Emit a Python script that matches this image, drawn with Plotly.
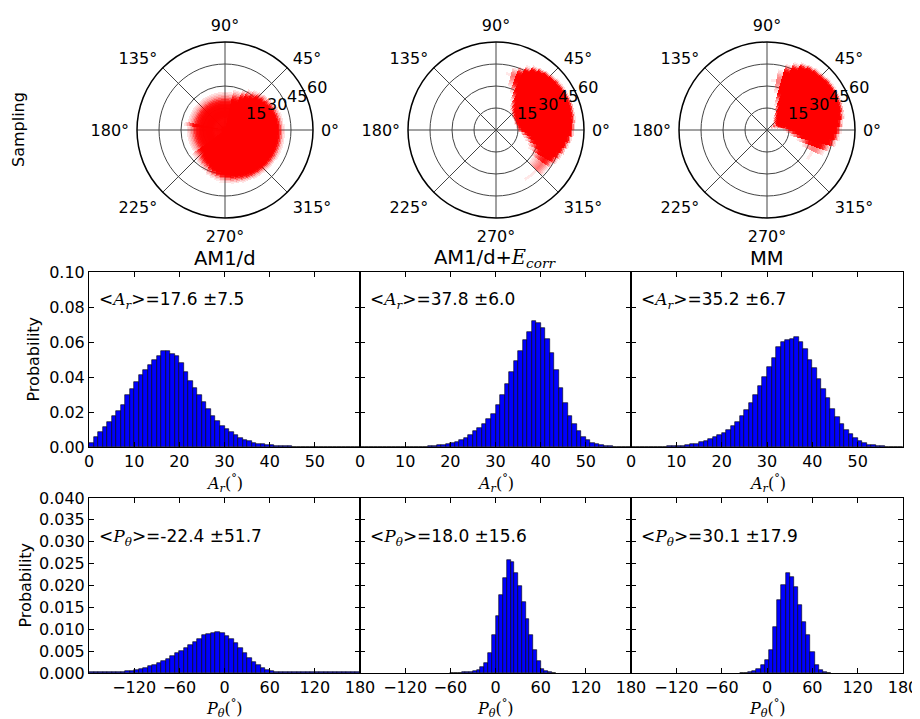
import numpy as np
import plotly.graph_objects as go

W, H = 920, 719

# ---------------- data ----------------
model_titles = ["AM1/d", "AM1/d+<i>E</i><sub><i>corr</i></sub>", "MM"]
ar_means = [17.6, 37.8, 35.2]
ar_sds = [7.5, 6.0, 6.7]
pt_means = [-22.4, 18.0, 30.1]
pt_sds = [51.7, 15.6, 17.9]

# A_r histograms (probability density), 1-degree bins starting at 0
ar_bin_start = 0.0
ar_bin_width = 1.0
ar_am1d = [0.0023, 0.0057, 0.0086, 0.0114, 0.0143, 0.0175, 0.0204, 0.0242, 0.0295, 0.0333,
           0.0370, 0.0410, 0.0440, 0.0470, 0.0495, 0.0520, 0.0550, 0.0550, 0.0530, 0.0520,
           0.0480, 0.0430, 0.0380, 0.0340, 0.0300, 0.0260, 0.0220, 0.0180, 0.0150, 0.0120,
           0.0105, 0.0086, 0.0067, 0.0053, 0.0042, 0.0034, 0.0025, 0.0019, 0.0015, 0.0011,
           0.0009, 0.0007, 0.0005, 0.0004, 0.0003, 0.0002, 0.0002, 0.0001, 0.0001, 0.0001,
           0.0001, 0.0001, 0, 0, 0, 0, 0, 0, 0, 0]
ar_ecorr = [0, 0, 0, 0, 0, 0, 0, 0, 0, 0,
            0, 0, 0.00005, 0.0001, 0.0002, 0.0004, 0.0006, 0.0009, 0.0013, 0.0018,
            0.0023, 0.0030, 0.0040, 0.0050, 0.0070, 0.0090, 0.0110, 0.0130, 0.0160, 0.0190,
            0.0240, 0.0300, 0.0360, 0.0430, 0.0490, 0.0550, 0.0610, 0.0660, 0.0720, 0.0710,
            0.0680, 0.0620, 0.0540, 0.0440, 0.0340, 0.0250, 0.0180, 0.0130, 0.0090, 0.0060,
            0.0040, 0.0025, 0.0015, 0.0010, 0.0006, 0.0003, 0.0002, 0.0001, 0, 0]
ar_mm = [0, 0, 0, 0.00005, 0.00005, 0.0001, 0.0001, 0.0002, 0.0003, 0.0004,
         0.0006, 0.0008, 0.0011, 0.0015, 0.0020, 0.0027, 0.0035, 0.0045, 0.0055, 0.0068,
         0.0082, 0.0098, 0.0118, 0.0145, 0.0175, 0.0210, 0.0250, 0.0300, 0.0350, 0.0400,
         0.0460, 0.0510, 0.0570, 0.0600, 0.0610, 0.0620, 0.0630, 0.0600, 0.0560, 0.0500,
         0.0450, 0.0390, 0.0330, 0.0280, 0.0220, 0.0170, 0.0130, 0.0098, 0.0072, 0.0050,
         0.0033, 0.0022, 0.0014, 0.0009, 0.0005, 0.0003, 0.0002, 0.0001, 0.0001, 0]

# P_theta histograms (probability density)
pt_am1d_start, pt_am1d_width = -180.0, 6.0
pt_am1d = [0.0002, 0.0002, 0.0002, 0.0002, 0.0002, 0.0002, 0.0003, 0.0003, 0.0004, 0.0005,
           0.0006, 0.0009, 0.0012, 0.0015, 0.0019, 0.0023, 0.0027, 0.0032, 0.0038, 0.0045,
           0.0051, 0.0057, 0.0064, 0.0071, 0.0078, 0.0086, 0.0089, 0.0092, 0.0093, 0.0092,
           0.0085, 0.0078, 0.0068, 0.0057, 0.0045, 0.0034, 0.0025, 0.0018, 0.0012, 0.0008,
           0.0005, 0.0003, 0.0003, 0.0002, 0.0002, 0.0002, 0.0002, 0.0002, 0.0002, 0.0002,
           0.0002, 0.0002, 0.0002, 0.0002, 0.0002, 0.0002, 0.0002, 0.0002, 0.0003, 0.0002]
pt_ecorr_start, pt_ecorr_width = -60.0, 5.0
pt_ecorr = [0.0001, 0.0001, 0.0001, 0.0002, 0.0002, 0.0003, 0.0005, 0.0008, 0.0014, 0.0024,
            0.0045, 0.0088, 0.0130, 0.0178, 0.0218, 0.0259, 0.0254, 0.0228, 0.0200, 0.0162,
            0.0124, 0.0086, 0.0052, 0.0027, 0.0010, 0.0004, 0.0002, 0.0001]
pt_mm_start, pt_mm_width = -36.0, 5.5
pt_mm = [0.0001, 0.0001, 0.0002, 0.0004, 0.0010, 0.0018, 0.0030, 0.0053, 0.0106, 0.0167,
         0.0201, 0.0229, 0.0220, 0.0197, 0.0155, 0.0117, 0.0087, 0.0049, 0.0018, 0.0007,
         0.0002, 0.0001]

ar_sets = [ar_am1d, ar_ecorr, ar_mm]
pt_sets = [(pt_am1d_start, pt_am1d_width, pt_am1d),
           (pt_ecorr_start, pt_ecorr_width, pt_ecorr),
           (pt_mm_start, pt_mm_width, pt_mm)]

ar_tickvals = [0, 10, 20, 30, 40, 50]
pt_tickvals = [-120, -60, 0, 60, 120, 180]
pt_ticktext = ["\u2212120", "\u221260", "0", "60", "120", "180"]
ang_tickvals = [0, 45, 90, 135, 180, 225, 270, 315]
rad_tickvals = [15, 30, 45, 60]
rad_label_angle = 22.5

# ---------------- layout geometry ----------------
FONT = "DejaVu Sans"
SERIF = "DejaVu Serif"
OFF = 8  # page offset of the plot in the browser
col_px = [(89, 360), (360, 631), (631, 903)]
row1_px = (272, 447)
row2_px = (498, 673)
polar_cx = [225, 496, 767]
polar_cy = 130
polar_R = 88
polar_rmax = 60


def fx(px):
    return (px - OFF) / W


def fy(py):
    return 1 - (py - OFF) / H


fig = go.Figure()

# -------- polar clouds (rendered from the product of the two marginals) --------
cloud_d50 = 0.95e-5
cloud_exp = 3.0
px_per_deg2 = (polar_R / polar_rmax) ** 2
for k in range(3):
    ar_vals = ar_sets[k]
    pt_start, pt_w, pt_vals = pt_sets[k]
    bases, lens, thetas, widths, cols = [], [], [], [], []
    for i, a in enumerate(ar_vals):
        if a <= 0:
            continue
        r0 = ar_bin_start + i * ar_bin_width
        rc = r0 + ar_bin_width / 2
        for j, t in enumerate(pt_vals):
            if t <= 0:
                continue
            p = a * ar_bin_width * t * pt_w
            area = rc * ar_bin_width * np.radians(pt_w) * px_per_deg2
            d = p / area
            cov = 1 - np.exp(-np.log(2) * (d / cloud_d50) ** cloud_exp)
            if cov < 0.08:
                continue
            bases.append(r0)
            lens.append(ar_bin_width)
            thetas.append(pt_start + (j + 0.5) * pt_w)
            widths.append(pt_w)
            cols.append("rgba(255,0,0,%.3f)" % min(1.0, cov))
    fig.add_trace(go.Barpolar(r=lens, base=bases, theta=thetas, width=widths,
                              marker=dict(color=cols, line=dict(width=0)),
                              hoverinfo="skip", showlegend=False,
                              subplot="polar" if k == 0 else "polar%d" % (k + 1)))

# -------- histograms --------
for k in range(3):
    ar_vals = ar_sets[k]
    xs = [ar_bin_start + (i + 0.5) * ar_bin_width for i in range(len(ar_vals))]
    fig.add_trace(go.Bar(x=xs, y=ar_vals, width=[ar_bin_width] * len(xs),
                         marker=dict(color="#0000ff", line=dict(color="black", width=0.6)),
                         showlegend=False, hoverinfo="skip",
                         xaxis="x" if k == 0 else "x%d" % (k + 1),
                         yaxis="y" if k == 0 else "y%d" % (k + 1)))
for k in range(3):
    pt_start, pt_w, pt_vals = pt_sets[k]
    xs = [pt_start + (i + 0.5) * pt_w for i in range(len(pt_vals))]
    fig.add_trace(go.Bar(x=xs, y=pt_vals, width=[pt_w] * len(xs),
                         marker=dict(color="#0000ff", line=dict(color="black", width=0.6)),
                         showlegend=False, hoverinfo="skip",
                         xaxis="x%d" % (k + 4), yaxis="y%d" % (k + 4)))

axis_common = dict(showline=True, linecolor="black", linewidth=1, mirror="ticks",
                   ticks="inside", ticklen=5, tickcolor="black", showgrid=False,
                   zeroline=False, tickfont=dict(family=FONT, size=16, color="black"),
                   fixedrange=True, automargin=False)

layout = dict(width=W, height=H,
              margin=dict(l=0, r=0, t=0, b=0, pad=0, autoexpand=False),
              paper_bgcolor="white", plot_bgcolor="white", bargap=0, showlegend=False,
              font=dict(family=FONT, size=16, color="black"))

for k in range(3):
    xa = dict(axis_common, domain=[fx(col_px[k][0]), fx(col_px[k][1])],
              range=[0, 60], tickvals=ar_tickvals,
              anchor="y" if k == 0 else "y%d" % (k + 1))
    ya = dict(axis_common, domain=[fy(row1_px[1]), fy(row1_px[0])],
              range=[0, 0.1], tickvals=[0, 0.02, 0.04, 0.06, 0.08, 0.10],
              tickformat=".2f", showticklabels=(k == 0),
              anchor="x" if k == 0 else "x%d" % (k + 1))
    layout["xaxis" if k == 0 else "xaxis%d" % (k + 1)] = xa
    layout["yaxis" if k == 0 else "yaxis%d" % (k + 1)] = ya
    xb = dict(axis_common, domain=[fx(col_px[k][0]), fx(col_px[k][1])],
              range=[-180, 180], tickvals=pt_tickvals, ticktext=pt_ticktext,
              anchor="y%d" % (k + 4))
    yb = dict(axis_common, domain=[fy(row2_px[1]), fy(row2_px[0])],
              range=[0, 0.04], tickvals=[0, 0.005, 0.01, 0.015, 0.02, 0.025, 0.03, 0.035, 0.04],
              tickformat=".3f", showticklabels=(k == 0), anchor="x%d" % (k + 4))
    layout["xaxis%d" % (k + 4)] = xb
    layout["yaxis%d" % (k + 4)] = yb

for k in range(3):
    cx = polar_cx[k]
    polar = dict(
        domain=dict(x=[fx(cx - polar_R), fx(cx + polar_R)],
                    y=[fy(polar_cy + polar_R), fy(polar_cy - polar_R)]),
        bgcolor="white",
        radialaxis=dict(range=[0, polar_rmax], tickvals=rad_tickvals, angle=rad_label_angle,
                        showticklabels=False,
                        showline=False, ticks="", showgrid=True, gridcolor="#444",
                        gridwidth=0.8, layer="above traces"),
        angularaxis=dict(tickvals=ang_tickvals, ticktext=["%d\u00b0" % v for v in ang_tickvals],
                         direction="counterclockwise", rotation=0, showline=True,
                         linecolor="black", linewidth=1.5, ticks="outside", ticklen=4,
                         tickcolor="rgba(0,0,0,0)", showgrid=True,
                         gridcolor="#444", gridwidth=0.8, layer="above traces",
                         tickfont=dict(family=FONT, size=16, color="black")),
    )
    layout["polar" if k == 0 else "polar%d" % (k + 1)] = polar

fig.update_layout(**layout)

ann = []
ann.append(dict(text="Sampling", x=fx(18), y=fy(polar_cy), textangle=-90,
                font=dict(size=16)))
ann.append(dict(text="Probability", x=fx(33), y=fy(sum(row1_px) / 2), textangle=-90,
                font=dict(size=16)))
ann.append(dict(text="Probability", x=fx(25), y=fy(sum(row2_px) / 2), textangle=-90,
                font=dict(size=16)))
# radial tick labels of the polar plots (matplotlib style: just beyond each ring at 22.5 deg)
ca, sa = np.cos(np.radians(rad_label_angle)), np.sin(np.radians(rad_label_angle))
for k in range(3):
    for v in rad_tickvals:
        rp = v * polar_R / polar_rmax
        ann.append(dict(text=str(v), x=fx(polar_cx[k] + rp * ca + 11),
                        y=fy(polar_cy - rp * sa - 8.5), font=dict(size=16, color="black")))
serif_A = "<span style=\"font-family:'%s'\"><i>A</i><sub><i>r</i></sub></span>" % SERIF
serif_P = "<span style=\"font-family:'%s'\"><i>P</i><sub><i>\u03b8</i></sub></span>" % SERIF
for k in range(3):
    cx = (col_px[k][0] + col_px[k][1]) / 2
    title = model_titles[k]
    if k == 1:
        title = "AM1/d+<span style=\"font-family:'%s'\"><i>E</i><sub><i>corr</i></sub></span>" % SERIF
    ann.append(dict(text=title, x=fx(cx), y=fy(258), font=dict(size=19.5)))
    ann.append(dict(text="&lt;" + serif_A + "&gt;=%.1f \u00b1%.1f" % (ar_means[k], ar_sds[k]),
                    x=fx(col_px[k][0] + 8), y=fy(300), xanchor="left", font=dict(size=17)))
    ann.append(dict(text="&lt;" + serif_P + "&gt;=%.1f \u00b1%.1f" % (pt_means[k], pt_sds[k]),
                    x=fx(col_px[k][0] + 8), y=fy(537), xanchor="left", font=dict(size=17)))
    ann.append(dict(text=serif_A + "(<sup>\u00b0</sup>)", x=fx(cx), y=fy(483),
                    font=dict(size=16, family=SERIF)))
    ann.append(dict(text=serif_P + "(<sup>\u00b0</sup>)", x=fx(cx), y=fy(708),
                    font=dict(size=16, family=SERIF)))
for a in ann:
    a.update(xref="paper", yref="paper", showarrow=False)
    a.setdefault("xanchor", "center")
    a["yanchor"] = "middle"
fig.update_layout(annotations=ann)

fig.write_html("out.html")
